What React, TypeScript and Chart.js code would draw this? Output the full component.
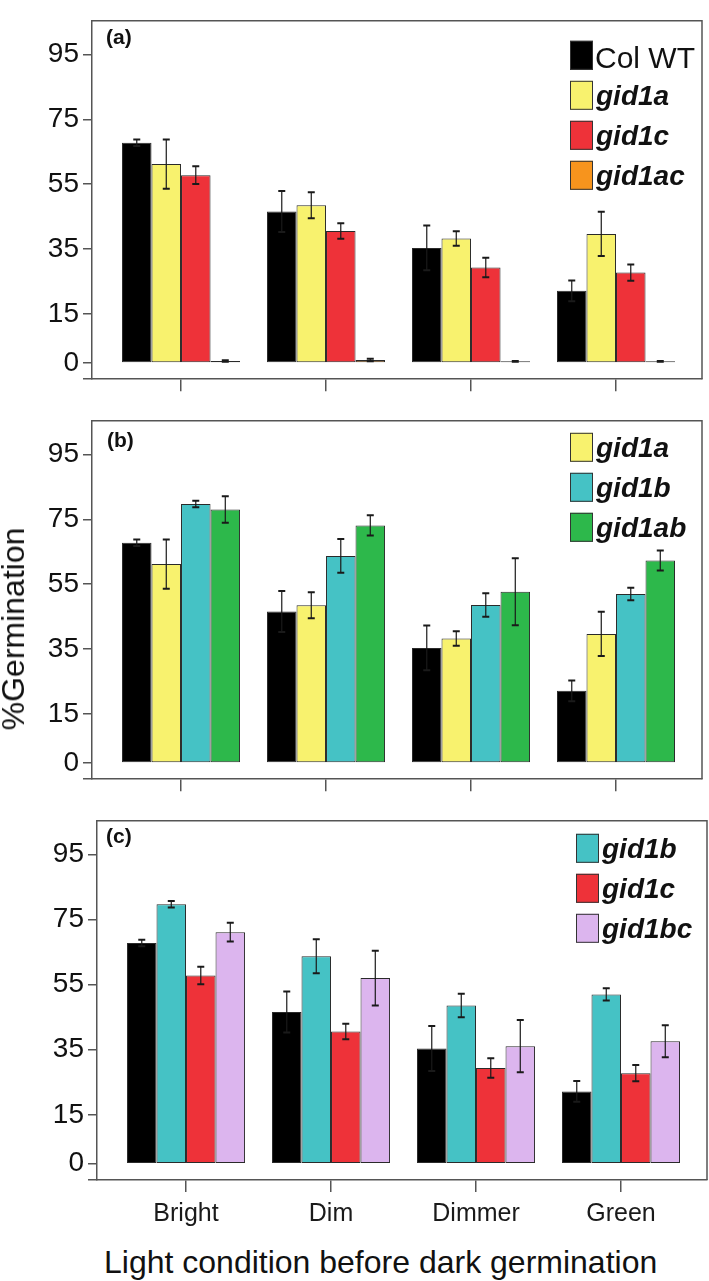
import React, { useEffect, useRef } from 'react';
import { Chart, registerables } from 'chart.js';

Chart.register(...registerables);

// ---------- data ----------
const categories = ['Bright', 'Dim', 'Dimmer', 'Green'];
const yTickValues = [-5, 0, 15, 35, 55, 75, 95];

const colWT = [67.8, 46.6, 35.4, 22.2];
const colWTErr = [1.0, 6.3, 6.9, 3.2];
const gid1a = [61.2, 48.5, 38.3, 39.7];
const gid1aErr = [7.6, 4.0, 2.2, 6.8];
const gid1c = [57.8, 40.6, 29.4, 27.8];
const gid1cErr = [2.7, 2.4, 3.0, 2.5];
const gid1ac = [0.6, 0.9, 0.5, 0.5];
const gid1acErr = [0.2, 0.4, 0.1, 0.1];
const gid1b = [79.7, 63.7, 48.6, 52.0];
const gid1bErr = [1.0, 5.2, 3.6, 1.9];
const gid1ab = [78.0, 73.1, 52.7, 62.3];
const gid1abErr = [4.1, 3.1, 10.3, 3.1];
const gid1bc = [71.1, 57.0, 36.1, 37.6];
const gid1bcErr = [2.9, 8.4, 8.0, 4.9];

type Series = { label: string; values: number[]; errors: number[]; color: string; italic: boolean };

const sColWT: Series = { label: 'Col WT', values: colWT, errors: colWTErr, color: '#000000', italic: false };
const sGid1a: Series = { label: 'gid1a', values: gid1a, errors: gid1aErr, color: '#F8F26E', italic: true };
const sGid1c: Series = { label: 'gid1c', values: gid1c, errors: gid1cErr, color: '#EE3239', italic: true };
const sGid1ac: Series = { label: 'gid1ac', values: gid1ac, errors: gid1acErr, color: '#F7941D', italic: true };
const sGid1b: Series = { label: 'gid1b', values: gid1b, errors: gid1bErr, color: '#45C2C5', italic: true };
const sGid1ab: Series = { label: 'gid1ab', values: gid1ab, errors: gid1abErr, color: '#2DB84B', italic: true };
const sGid1bc: Series = { label: 'gid1bc', values: gid1bc, errors: gid1bcErr, color: '#DCB5EE', italic: true };

type Panel = {
  tag: string;
  series: Series[];
  legend: string[];
  canvasHeight: number;
  padTop: number;
  padRight: number;
  yWidth: number;
  xHeight: number;
  showX: boolean;
  tagDx: number;
  tagDy: number;
  legendDx: number;
  legendDy: number;
};

const panels: Panel[] = [
  { tag: '(a)', series: [sColWT, sGid1a, sGid1c, sGid1ac], legend: ['Col WT', 'gid1a', 'gid1c', 'gid1ac'],
    canvasHeight: 400, padTop: 3, padRight: 7, yWidth: 92, xHeight: 20, showX: false,
    tagDx: 14, tagDy: 23, legendDx: -132, legendDy: 20 },
  { tag: '(b)', series: [sColWT, sGid1a, sGid1b, sGid1ab], legend: ['gid1a', 'gid1b', 'gid1ab'],
    canvasHeight: 400, padTop: 3, padRight: 7, yWidth: 92, xHeight: 20, showX: false,
    tagDx: 15, tagDy: 26, legendDx: -132, legendDy: 12 },
  { tag: '(c)', series: [sColWT, sGid1b, sGid1c, sGid1bc], legend: ['gid1b', 'gid1c', 'gid1bc'],
    canvasHeight: 430, padTop: 2, padRight: 2, yWidth: 97, xHeight: 50, showX: true,
    tagDx: 9, tagDy: 22, legendDx: -131, legendDy: 13 },
];

const SANS = "'Liberation Sans', Arial, Helvetica, sans-serif";
const NARROW = "'Liberation Sans Narrow', 'Liberation Sans', Arial, sans-serif";
const AXIS = '#555555';

const overlayPlugin = {
  id: 'overlay',
  afterDatasetsDraw(chart: any, _args: any, opts: any) {
    const ctx = chart.ctx as CanvasRenderingContext2D;
    const { left, right, top, bottom } = chart.chartArea;
    const yScale = chart.scales.y;
    ctx.save();
    // error bars
    chart.data.datasets.forEach((ds: any, i: number) => {
      const meta = chart.getDatasetMeta(i);
      meta.data.forEach((el: any, j: number) => {
        const v = ds.data[j].y;
        const e = ds.errors[j];
        const x = el.x;
        const y1 = yScale.getPixelForValue(v + e);
        const y2 = yScale.getPixelForValue(v - e);
        ctx.strokeStyle = '#1a1a1a';
        ctx.lineWidth = 1.2;
        ctx.beginPath();
        ctx.moveTo(x, y1);
        ctx.lineTo(x, y2);
        ctx.stroke();
        ctx.lineWidth = 2;
        ctx.beginPath();
        ctx.moveTo(x - 3.5, y1);
        ctx.lineTo(x + 3.5, y1);
        ctx.moveTo(x - 3.5, y2);
        ctx.lineTo(x + 3.5, y2);
        ctx.stroke();
      });
    });
    // frame top + right
    ctx.strokeStyle = AXIS;
    ctx.lineWidth = 1.5;
    ctx.beginPath();
    ctx.moveTo(left, top);
    ctx.lineTo(right, top);
    ctx.lineTo(right, bottom);
    ctx.stroke();
    // panel tag
    ctx.fillStyle = '#111';
    ctx.font = `bold 21px ${SANS}`;
    ctx.textBaseline = 'alphabetic';
    ctx.textAlign = 'left';
    ctx.fillText(opts.tag, left + opts.tagDx, top + opts.tagDy);
    // legend
    const lx = right + opts.legendDx;
    let ly = top + opts.legendDy;
    (opts.legend as string[]).forEach((name) => {
      const ds = chart.data.datasets.find((d: any) => d.label === name);
      if (!ds) return;
      ctx.fillStyle = ds.backgroundColor;
      ctx.fillRect(lx, ly, 23, 29);
      ctx.strokeStyle = '#333';
      ctx.lineWidth = 1;
      ctx.strokeRect(lx + 0.5, ly + 0.5, 22, 28);
      ctx.fillStyle = '#111';
      if (ds.italicLabel) {
        ctx.font = `italic bold 28px ${SANS}`;
        ctx.fillText(name, lx + 26, ly + 24);
      } else {
        ctx.font = `30px ${SANS}`;
        ctx.fillText(name, lx + 25, ly + 27);
      }
      ly += 40;
    });
    ctx.restore();
  },
};

function makeConfig(p: Panel): any {
  return {
    type: 'bar',
    data: {
      datasets: p.series.map((s) => ({
        label: s.label,
        data: s.values.map((v, i) => ({ x: i, y: v })),
        errors: s.errors,
        italicLabel: s.italic,
        backgroundColor: s.color,
        borderColor: '#2a2a2a',
        borderWidth: 1,
        borderSkipped: false,
        categoryPercentage: 0.814,
        barPercentage: 1.0,
      })),
    },
    options: {
      responsive: false,
      animation: false,
      events: [],
      layout: { padding: { top: p.padTop, right: p.padRight, left: 0, bottom: 0 } },
      plugins: {
        legend: { display: false },
        tooltip: { enabled: false },
        title: { display: false },
        overlay: {
          tag: p.tag,
          legend: p.legend,
          tagDx: p.tagDx,
          tagDy: p.tagDy,
          legendDx: p.legendDx,
          legendDy: p.legendDy,
        },
      },
      scales: {
        x: {
          type: 'linear',
          offset: false,
          min: -0.614,
          max: 3.593,
          afterBuildTicks: (s: any) => {
            s.ticks = categories.map((_, i) => ({ value: i }));
          },
          afterFit: (s: any) => {
            s.height = p.xHeight;
          },
          grid: { offset: false, drawOnChartArea: false, drawTicks: true, tickLength: 12, color: AXIS, lineWidth: 1.5 },
          border: { display: true, color: AXIS, width: 1.5 },
          ticks: {
            display: p.showX,
            autoSkip: false,
            maxRotation: 0,
            padding: 7,
            color: '#1a1a1a',
            font: { family: SANS, size: 25 },
            callback: (v: any) => categories[v] ?? '',
          },
        },
        y: {
          type: 'linear',
          min: -5,
          max: 105.3,
          afterBuildTicks: (s: any) => {
            s.ticks = yTickValues.map((v) => ({ value: v }));
          },
          afterFit: (s: any) => {
            s.width = p.yWidth;
          },
          grid: { drawOnChartArea: false, drawTicks: true, tickLength: 9, color: AXIS, lineWidth: 1.5 },
          border: { display: true, color: AXIS, width: 1.5 },
          ticks: {
            autoSkip: false,
            padding: 4,
            color: '#111',
            font: { family: NARROW, size: 28 },
            callback: (v: any) => (v === -5 ? '' : String(v)),
          },
        },
      },
    },
    plugins: [overlayPlugin],
  };
}

export default function App() {
  const refA = useRef<HTMLCanvasElement>(null);
  const refB = useRef<HTMLCanvasElement>(null);
  const refC = useRef<HTMLCanvasElement>(null);

  useEffect(() => {
    const refs = [refA, refB, refC];
    const charts = refs.map((r, i) => new Chart(r.current as HTMLCanvasElement, makeConfig(panels[i])));
    return () => charts.forEach((c) => c.destroy());
  }, []);

  return (
    <div style={{ position: 'absolute', left: 0, top: 0, width: 709, height: 1281, background: '#ffffff', overflow: 'hidden' }}>
      <canvas ref={refA} width={709} height={400} style={{ position: 'absolute', left: 0, top: 0 }} />
      <canvas ref={refB} width={709} height={400} style={{ position: 'absolute', left: 0, top: 400 }} />
      <canvas ref={refC} width={709} height={430} style={{ position: 'absolute', left: 0, top: 800 }} />
      <div
        style={{
          position: 'absolute',
          left: 13,
          top: 629,
          transform: 'translate(-50%, -50%) rotate(-90deg)',
          fontFamily: SANS,
          fontSize: 32,
          lineHeight: '32px',
          whiteSpace: 'nowrap',
          color: '#111',
        }}
      >
        %Germination
      </div>
      <div
        style={{
          position: 'absolute',
          left: 104,
          top: 1246,
          fontFamily: SANS,
          fontSize: 32,
          lineHeight: '32px',
          whiteSpace: 'nowrap',
          color: '#111',
        }}
      >
        Light condition before dark germination
      </div>
    </div>
  );
}
